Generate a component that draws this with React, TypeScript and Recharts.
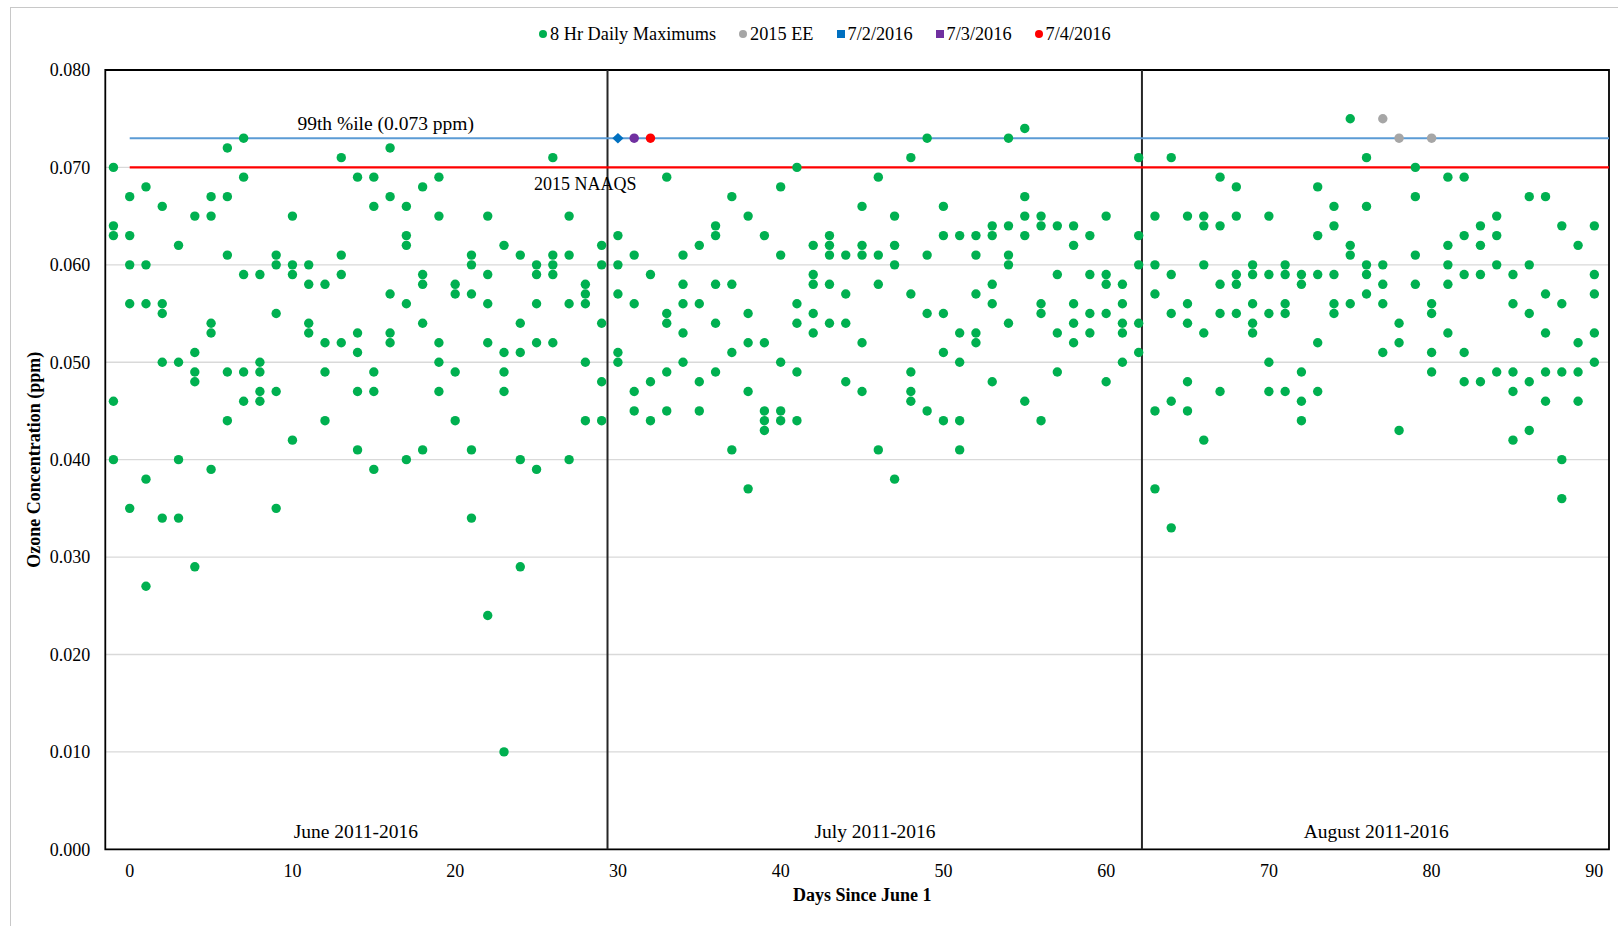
import {
  ScatterChart,
  Scatter,
  XAxis,
  YAxis,
  CartesianGrid,
  ReferenceLine,
  ReferenceArea,
  ReferenceDot,
} from "recharts";

// 8 hr daily maximum ozone (ppm), 2011-2016, by day since June 1
const juneMax = [
  { day: -1, v: [0.07, 0.064, 0.063, 0.046, 0.04] },
  { day: 0, v: [0.067, 0.063, 0.06, 0.056, 0.035] },
  { day: 1, v: [0.068, 0.06, 0.056, 0.038, 0.027] },
  { day: 2, v: [0.066, 0.056, 0.055, 0.05, 0.034] },
  { day: 3, v: [0.062, 0.05, 0.04, 0.034] },
  { day: 4, v: [0.065, 0.051, 0.049, 0.048, 0.029] },
  { day: 5, v: [0.067, 0.065, 0.054, 0.053, 0.039] },
  { day: 6, v: [0.072, 0.067, 0.061, 0.049, 0.044] },
  { day: 7, v: [0.073, 0.069, 0.059, 0.049, 0.046] },
  { day: 8, v: [0.059, 0.05, 0.049, 0.047, 0.046] },
  { day: 9, v: [0.061, 0.06, 0.055, 0.047, 0.035] },
  { day: 10, v: [0.065, 0.06, 0.059, 0.042] },
  { day: 11, v: [0.06, 0.058, 0.054, 0.053] },
  { day: 12, v: [0.058, 0.052, 0.049, 0.044] },
  { day: 13, v: [0.071, 0.061, 0.059, 0.052] },
  { day: 14, v: [0.069, 0.053, 0.051, 0.047, 0.041] },
  { day: 15, v: [0.069, 0.066, 0.049, 0.047, 0.039] },
  { day: 16, v: [0.072, 0.067, 0.057, 0.053, 0.052] },
  { day: 17, v: [0.066, 0.063, 0.062, 0.056, 0.04] },
  { day: 18, v: [0.068, 0.059, 0.058, 0.054, 0.041] },
  { day: 19, v: [0.069, 0.065, 0.052, 0.05, 0.047] },
  { day: 20, v: [0.058, 0.057, 0.049, 0.044] },
  { day: 21, v: [0.061, 0.06, 0.057, 0.041, 0.034] },
  { day: 22, v: [0.065, 0.059, 0.056, 0.052, 0.024] },
  { day: 23, v: [0.062, 0.051, 0.049, 0.047, 0.01] },
  { day: 24, v: [0.061, 0.054, 0.051, 0.04, 0.029] },
  { day: 25, v: [0.06, 0.059, 0.056, 0.052, 0.039] },
  { day: 26, v: [0.071, 0.061, 0.06, 0.059, 0.052] },
  { day: 27, v: [0.065, 0.061, 0.056, 0.04] },
  { day: 28, v: [0.058, 0.057, 0.056, 0.05, 0.044] },
  { day: 29, v: [0.062, 0.06, 0.054, 0.048, 0.044] },
];

const julyMax = [
  { day: 30, v: [0.063, 0.06, 0.057, 0.051, 0.05] },
  { day: 31, v: [0.061, 0.056, 0.047, 0.045] },
  { day: 32, v: [0.059, 0.048, 0.044] },
  { day: 33, v: [0.069, 0.055, 0.054, 0.049, 0.045] },
  { day: 34, v: [0.061, 0.058, 0.056, 0.053, 0.05] },
  { day: 35, v: [0.062, 0.056, 0.048, 0.045] },
  { day: 36, v: [0.064, 0.063, 0.058, 0.054, 0.049] },
  { day: 37, v: [0.067, 0.058, 0.051, 0.041] },
  { day: 38, v: [0.065, 0.055, 0.052, 0.047, 0.037] },
  { day: 39, v: [0.063, 0.052, 0.045, 0.044, 0.043] },
  { day: 40, v: [0.068, 0.061, 0.05, 0.045, 0.044] },
  { day: 41, v: [0.07, 0.056, 0.054, 0.049, 0.044] },
  { day: 42, v: [0.062, 0.059, 0.058, 0.055, 0.053] },
  { day: 43, v: [0.063, 0.062, 0.061, 0.058, 0.054] },
  { day: 44, v: [0.061, 0.057, 0.054, 0.048] },
  { day: 45, v: [0.066, 0.062, 0.061, 0.052, 0.047] },
  { day: 46, v: [0.069, 0.061, 0.058, 0.041] },
  { day: 47, v: [0.065, 0.062, 0.06, 0.038] },
  { day: 48, v: [0.071, 0.057, 0.049, 0.047, 0.046] },
  { day: 49, v: [0.073, 0.061, 0.055, 0.045] },
  { day: 50, v: [0.066, 0.063, 0.055, 0.051, 0.044] },
  { day: 51, v: [0.063, 0.053, 0.05, 0.044, 0.041] },
  { day: 52, v: [0.063, 0.061, 0.057, 0.053, 0.052] },
  { day: 53, v: [0.064, 0.063, 0.058, 0.056, 0.048] },
  { day: 54, v: [0.073, 0.064, 0.061, 0.06, 0.054] },
  { day: 55, v: [0.074, 0.067, 0.065, 0.063, 0.046] },
  { day: 56, v: [0.065, 0.064, 0.056, 0.055, 0.044] },
  { day: 57, v: [0.064, 0.059, 0.053, 0.049] },
  { day: 58, v: [0.064, 0.062, 0.056, 0.054, 0.052] },
  { day: 59, v: [0.063, 0.059, 0.055, 0.053] },
  { day: 60, v: [0.065, 0.059, 0.058, 0.055, 0.048] },
  { day: 61, v: [0.058, 0.056, 0.054, 0.053, 0.05] },
  { day: 62, v: [0.071, 0.063, 0.06, 0.054, 0.051] },
];

const augustMax = [
  { day: 63, v: [0.065, 0.06, 0.057, 0.045, 0.037] },
  { day: 64, v: [0.071, 0.059, 0.055, 0.046, 0.033] },
  { day: 65, v: [0.065, 0.056, 0.054, 0.048, 0.045] },
  { day: 66, v: [0.065, 0.064, 0.06, 0.053, 0.042] },
  { day: 67, v: [0.069, 0.064, 0.058, 0.055, 0.047] },
  { day: 68, v: [0.068, 0.065, 0.059, 0.058, 0.055] },
  { day: 69, v: [0.06, 0.059, 0.056, 0.054, 0.053] },
  { day: 70, v: [0.065, 0.059, 0.055, 0.05, 0.047] },
  { day: 71, v: [0.06, 0.059, 0.056, 0.055, 0.047] },
  { day: 72, v: [0.059, 0.058, 0.049, 0.046, 0.044] },
  { day: 73, v: [0.068, 0.063, 0.059, 0.052, 0.047] },
  { day: 74, v: [0.066, 0.064, 0.059, 0.056, 0.055] },
  { day: 75, v: [0.075, 0.062, 0.061, 0.056] },
  { day: 76, v: [0.071, 0.066, 0.06, 0.059, 0.057] },
  { day: 77, v: [0.06, 0.058, 0.056, 0.051] },
  { day: 78, v: [0.054, 0.052, 0.043] },
  { day: 79, v: [0.07, 0.067, 0.061, 0.058] },
  { day: 80, v: [0.056, 0.055, 0.051, 0.049] },
  { day: 81, v: [0.069, 0.062, 0.06, 0.058, 0.053] },
  { day: 82, v: [0.069, 0.063, 0.059, 0.051, 0.048] },
  { day: 83, v: [0.064, 0.062, 0.059, 0.048] },
  { day: 84, v: [0.065, 0.063, 0.06, 0.049] },
  { day: 85, v: [0.059, 0.056, 0.049, 0.047, 0.042] },
  { day: 86, v: [0.067, 0.06, 0.055, 0.048, 0.043] },
  { day: 87, v: [0.067, 0.057, 0.053, 0.049, 0.046] },
  { day: 88, v: [0.064, 0.056, 0.049, 0.04, 0.036] },
  { day: 89, v: [0.062, 0.052, 0.049, 0.046] },
  { day: 90, v: [0.064, 0.059, 0.057, 0.053, 0.05] },
];

const ee2015 = [
  { x: 77, y: 0.075 },
  { x: 78, y: 0.073 },
  { x: 80, y: 0.073 },
];
const jul2 = [{ x: 30, y: 0.073 }];
const jul3 = [{ x: 31, y: 0.073 }];
const jul4 = [{ x: 32, y: 0.073 }];

const pct99 = 0.073;
const naaqs = 0.07;
const monthBreaks = [29.36, 62.2];
const months = [
  { x: 13.9, name: "June 2011-2016" },
  { x: 45.8, name: "July 2011-2016" },
  { x: 76.6, name: "August 2011-2016" },
];

const xTicks = [0, 10, 20, 30, 40, 50, 60, 70, 80, 90];
const yTicks = [0, 0.01, 0.02, 0.03, 0.04, 0.05, 0.06, 0.07, 0.08];

const legendItems = [
  { name: "8 Hr Daily Maximums", color: "#00B050", square: false },
  { name: "2015 EE", color: "#A6A6A6", square: false },
  { name: "7/2/2016", color: "#0070C0", square: true },
  { name: "7/3/2016", color: "#7030A0", square: true },
  { name: "7/4/2016", color: "#FF0000", square: false },
];

const FONT = '"Liberation Serif", "Times New Roman", serif';

const daily = [...juneMax, ...julyMax, ...augustMax].flatMap((d) =>
  d.v.map((y) => ({ x: d.day, y }))
);

const dot = (color: string) => (p: any) =>
  <circle cx={p.cx} cy={p.cy} r={4.7} fill={color} />;

const diamond = (color: string) => (p: any) =>
  (
    <polygon
      points={`${p.cx - 5.6},${p.cy} ${p.cx},${p.cy - 5.2} ${p.cx + 5.6},${p.cy} ${p.cx},${p.cy + 5.2}`}
      fill={color}
    />
  );

export default function App() {
  return (
    <div
      style={{
        position: "absolute",
        left: 0,
        top: 0,
        width: 1618,
        height: 926,
        overflow: "hidden",
        background: "#fff",
        fontFamily: FONT,
      }}
    >
      <div
        style={{
          position: "absolute",
          left: 10,
          top: 7,
          width: 1700,
          height: 1000,
          border: "1.5px solid #C8C8C8",
        }}
      />
      <div
        style={{
          position: "absolute",
          left: 539,
          top: 23,
          display: "flex",
          alignItems: "center",
          gap: 23,
          fontSize: 18.3,
          lineHeight: "22px",
          color: "#000",
        }}
      >
        {legendItems.map((it) => (
          <div key={it.name} style={{ display: "flex", alignItems: "center", gap: 3 }}>
            <span
              style={{
                display: "inline-block",
                width: 8,
                height: 8,
                borderRadius: it.square ? 0 : 4,
                background: it.color,
              }}
            />
            <span>{it.name}</span>
          </div>
        ))}
      </div>
      <ScatterChart
        width={1618}
        height={926}
        margin={{ top: 70, right: 9, bottom: 16.7, left: 20 }}
        style={{ position: "absolute", left: 0, top: 0 }}
      >
        <CartesianGrid horizontal vertical={false} stroke="#D9D9D9" strokeWidth={1.3} />
        <XAxis
          type="number"
          dataKey="x"
          domain={[-1.5, 90.9]}
          ticks={xTicks}
          height={60}
          axisLine={false}
          tickLine={false}
          tickSize={0}
          tickMargin={15}
          tick={{ fill: "#000", fontSize: 18, fontFamily: FONT }}
          label={{
            value: "Days Since June 1",
            position: "insideBottom",
            offset: 8,
            dx: 5,
            fill: "#000",
            fontSize: 18,
            fontWeight: "bold",
            fontFamily: FONT,
          }}
        />
        <YAxis
          type="number"
          dataKey="y"
          domain={[0, 0.08]}
          ticks={yTicks}
          width={85.3}
          axisLine={false}
          tickLine={false}
          tickSize={0}
          tickMargin={15}
          tickFormatter={(v: number) => v.toFixed(3)}
          tick={{ fill: "#000", fontSize: 18, fontFamily: FONT }}
          label={{
            value: "Ozone Concentration (ppm)",
            angle: -90,
            position: "insideLeft",
            offset: 14,
            style: { textAnchor: "middle" },
            fill: "#000",
            fontSize: 18,
            fontWeight: "bold",
            fontFamily: FONT,
          }}
        />
        <ReferenceArea
          x1={-1.5}
          x2={90.9}
          y1={0}
          y2={0.08}
          fill="none"
          stroke="#000"
          strokeWidth={1.8}
          ifOverflow="visible"
        />
        {monthBreaks.map((x) => (
          <ReferenceLine key={x} x={x} stroke="#262626" strokeWidth={2} />
        ))}
        <ReferenceLine
          segment={[
            { x: 0, y: pct99 },
            { x: 90.9, y: pct99 },
          ]}
          stroke="#5B9BD5"
          strokeWidth={2}
        />
        <ReferenceLine
          segment={[
            { x: 0, y: naaqs },
            { x: 90.9, y: naaqs },
          ]}
          stroke="#FF0000"
          strokeWidth={2.2}
        />
        <ReferenceDot
          x={15.73}
          y={pct99}
          r={0}
          fill="none"
          stroke="none"
          label={{ value: "99th %ile (0.073 ppm)", position: "top", offset: 8, fill: "#000", fontSize: 19.5, fontFamily: FONT }}
        />
        <ReferenceDot
          x={28}
          y={naaqs}
          r={0}
          fill="none"
          stroke="none"
          label={{ value: "2015 NAAQS", position: "bottom", offset: 10, fill: "#000", fontSize: 18, fontFamily: FONT }}
        />
        {months.map((m) => (
          <ReferenceDot
            key={m.name}
            x={m.x}
            y={0.0019}
            r={0}
            fill="none"
            stroke="none"
            label={{ value: m.name, position: "center", fill: "#000", fontSize: 19.5, fontFamily: FONT }}
          />
        ))}
        <Scatter name="8 Hr Daily Maximums" data={daily} shape={dot("#00B050")} isAnimationActive={false} />
        <Scatter name="2015 EE" data={ee2015} shape={dot("#A6A6A6")} isAnimationActive={false} />
        <Scatter name="7/2/2016" data={jul2} shape={diamond("#0070C0")} isAnimationActive={false} />
        <Scatter name="7/3/2016" data={jul3} shape={dot("#7030A0")} isAnimationActive={false} />
        <Scatter name="7/4/2016" data={jul4} shape={dot("#FF0000")} isAnimationActive={false} />
      </ScatterChart>
    </div>
  );
}
